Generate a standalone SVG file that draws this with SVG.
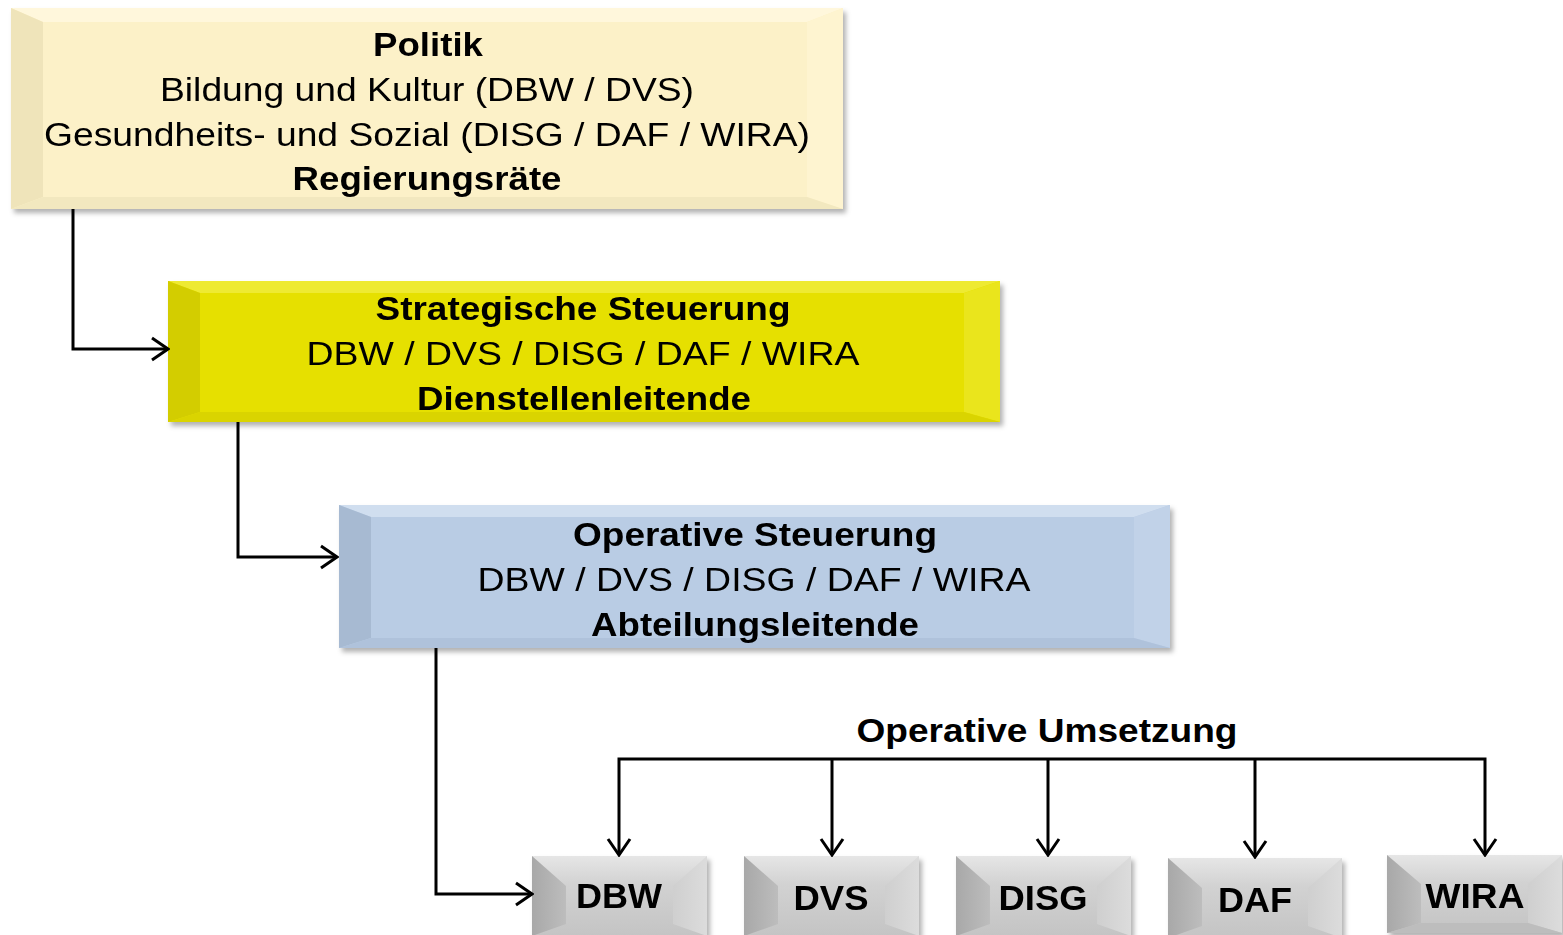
<svg xmlns="http://www.w3.org/2000/svg" width="1563" height="935" viewBox="0 0 1563 935">
  <defs>
    <filter id="shadow" x="-5%" y="-10%" width="115%" height="130%">
      <feDropShadow dx="3" dy="4" stdDeviation="2.5" flood-color="#000" flood-opacity="0.3"/>
    </filter>
    <marker id="arrow" viewBox="0 0 20 26" refX="18" refY="13" markerWidth="20" markerHeight="26" markerUnits="userSpaceOnUse" orient="auto">
      <path d="M2,2 L18,13 L2,24" fill="none" stroke="#000" stroke-width="3"/>
    </marker>
    <linearGradient id="unitFace" x1="0" y1="0" x2="0" y2="1">
      <stop offset="0" stop-color="#E6E6E6"/>
      <stop offset="0.35" stop-color="#D2D2D2"/>
      <stop offset="1" stop-color="#C4C4C4"/>
    </linearGradient>
    <linearGradient id="unitLeft" x1="0" y1="0" x2="1" y2="0">
      <stop offset="0" stop-color="#A8A8A8"/>
      <stop offset="1" stop-color="#BDBDBD"/>
    </linearGradient>
    <linearGradient id="unitRight" x1="1" y1="0" x2="0" y2="0">
      <stop offset="0" stop-color="#DCDCDC"/>
      <stop offset="1" stop-color="#CFCFCF"/>
    </linearGradient>
    <style>
      text { font-family: "Liberation Sans", Arial, sans-serif; fill: #000; text-anchor: middle; }
      .big { font-size: 33px; }
      .b { font-weight: bold; }
      .small { font-size: 35px; font-weight: bold; }
      .conn { fill: none; stroke: #000; stroke-width: 3; }
      /* Politik palette */
      .p-face { fill: #FCF1C8; }
      .p-top { fill: #FFF7DC; }
      .p-left { fill: #EFE4BA; }
      .p-right { fill: #FEF4D0; }
      .p-bot { fill: #F2E8BF; }
      /* Strategic palette */
      .s-face { fill: #E6E000; }
      .s-top { fill: #EEEA30; }
      .s-left { fill: #D3CD00; }
      .s-right { fill: #EAE51A; }
      .s-bot { fill: #DAD400; }
      /* Operative palette */
      .o-face { fill: #B9CCE4; }
      .o-top { fill: #D0DEEF; }
      .o-left { fill: #A7BAD2; }
      .o-right { fill: #C1D2E8; }
      .o-bot { fill: #AFC2DB; }
      /* Unit palette */
      .g-face { fill: url(#unitFace); }
      .g-left { fill: url(#unitLeft); }
      .g-right { fill: url(#unitRight); }
      .g-bot { fill: #BDBDBD; }
    </style>
  </defs>

  <rect width="1563" height="935" fill="#fff"/>

  <!-- Politik -->
  <g id="politik" filter="url(#shadow)">
    <rect class="p-face" x="11" y="8" width="832" height="201"/>
    <polygon class="p-top" points="11,8 843,8 807,22 43,22"/>
    <polygon class="p-left" points="11,8 43,22 43,197 11,209"/>
    <polygon class="p-right" points="843,8 843,209 807,197 807,22"/>
    <polygon class="p-bot" points="11,209 43,197 807,197 843,209"/>
    <text class="big b" x="428" y="56" textLength="110" lengthAdjust="spacingAndGlyphs">Politik</text>
    <text class="big" x="427" y="101" textLength="534" lengthAdjust="spacingAndGlyphs">Bildung und Kultur (DBW / DVS)</text>
    <text class="big" x="427" y="146" textLength="766" lengthAdjust="spacingAndGlyphs">Gesundheits- und Sozial (DISG / DAF / WIRA)</text>
    <text class="big b" x="427" y="190" textLength="269" lengthAdjust="spacingAndGlyphs">Regierungsräte</text>
  </g>

  <!-- Strategische Steuerung -->
  <g id="strategisch" filter="url(#shadow)">
    <rect class="s-face" x="168" y="281" width="832" height="141"/>
    <polygon class="s-top" points="168,281 1000,281 964,293 200,293"/>
    <polygon class="s-left" points="168,281 200,293 200,412 168,422"/>
    <polygon class="s-right" points="1000,281 1000,422 964,412 964,293"/>
    <polygon class="s-bot" points="168,422 200,412 964,412 1000,422"/>
    <text class="big b" x="583" y="320" textLength="415" lengthAdjust="spacingAndGlyphs">Strategische Steuerung</text>
    <text class="big" x="583" y="365" textLength="553" lengthAdjust="spacingAndGlyphs">DBW / DVS / DISG / DAF / WIRA</text>
    <text class="big b" x="584" y="410" textLength="334" lengthAdjust="spacingAndGlyphs">Dienstellenleitende</text>
  </g>

  <!-- Operative Steuerung -->
  <g id="operativ" filter="url(#shadow)">
    <rect class="o-face" x="339" y="505" width="831" height="143"/>
    <polygon class="o-top" points="339,505 1170,505 1134,517 371,517"/>
    <polygon class="o-left" points="339,505 371,517 371,638 339,648"/>
    <polygon class="o-right" points="1170,505 1170,648 1134,638 1134,517"/>
    <polygon class="o-bot" points="339,648 371,638 1134,638 1170,648"/>
    <text class="big b" x="755" y="546" textLength="364" lengthAdjust="spacingAndGlyphs">Operative Steuerung</text>
    <text class="big" x="754" y="591" textLength="553" lengthAdjust="spacingAndGlyphs">DBW / DVS / DISG / DAF / WIRA</text>
    <text class="big b" x="755" y="636" textLength="328" lengthAdjust="spacingAndGlyphs">Abteilungsleitende</text>
  </g>

  <!-- Operative Umsetzung label -->
  <text id="umsetzung-label" class="big b" x="1047" y="742" textLength="381" lengthAdjust="spacingAndGlyphs">Operative Umsetzung</text>

  <!-- Units: face plus side facets meeting near mid-height -->
  <g id="unit-dbw" filter="url(#shadow)">
    <rect class="g-face" x="532" y="856" width="175" height="80"/>
    <polygon class="g-left" points="532,856 566,886 566,924 532,936"/>
    <polygon class="g-right" points="707,856 707,936 673,924 673,886"/>
    <text class="small" x="619" y="908" textLength="86" lengthAdjust="spacingAndGlyphs">DBW</text>
  </g>
  <g id="unit-dvs" filter="url(#shadow)">
    <rect class="g-face" x="744" y="856" width="175" height="80"/>
    <polygon class="g-left" points="744,856 778,886 778,924 744,936"/>
    <polygon class="g-right" points="919,856 919,936 885,924 885,886"/>
    <text class="small" x="831" y="910" textLength="75" lengthAdjust="spacingAndGlyphs">DVS</text>
  </g>
  <g id="unit-disg" filter="url(#shadow)">
    <rect class="g-face" x="956" y="856" width="175" height="80"/>
    <polygon class="g-left" points="956,856 990,886 990,924 956,936"/>
    <polygon class="g-right" points="1131,856 1131,936 1097,924 1097,886"/>
    <text class="small" x="1043" y="910" textLength="89" lengthAdjust="spacingAndGlyphs">DISG</text>
  </g>
  <g id="unit-daf" filter="url(#shadow)">
    <rect class="g-face" x="1168" y="858" width="174" height="80"/>
    <polygon class="g-left" points="1168,858 1202,888 1202,926 1168,938"/>
    <polygon class="g-right" points="1342,858 1342,938 1308,926 1308,888"/>
    <text class="small" x="1255" y="912" textLength="74" lengthAdjust="spacingAndGlyphs">DAF</text>
  </g>
  <g id="unit-wira" filter="url(#shadow)">
    <rect class="g-face" x="1387" y="855" width="175" height="78"/>
    <polygon class="g-left" points="1387,855 1421,884 1421,923 1387,933"/>
    <polygon class="g-right" points="1562,855 1562,933 1528,923 1528,884"/>
    <polygon class="g-bot" points="1387,933 1421,923 1528,923 1562,933"/>
    <text class="small" x="1475" y="908" textLength="99" lengthAdjust="spacingAndGlyphs">WIRA</text>
  </g>

  <!-- Connectors -->
  <g id="connectors">
    <path class="conn" d="M73,209 V349 H168" marker-end="url(#arrow)"/>
    <path class="conn" d="M238,422 V557 H337" marker-end="url(#arrow)"/>
    <path class="conn" d="M436,648 V894 H532" marker-end="url(#arrow)"/>
    <path class="conn" d="M1048,759 H1485 V855" marker-end="url(#arrow)"/>
    <path class="conn" d="M1048,759 H619 V855" marker-end="url(#arrow)"/>
    <path class="conn" d="M832,759 V855" marker-end="url(#arrow)"/>
    <path class="conn" d="M1048,759 V855" marker-end="url(#arrow)"/>
    <path class="conn" d="M1255,759 V857" marker-end="url(#arrow)"/>
  </g>
</svg>
